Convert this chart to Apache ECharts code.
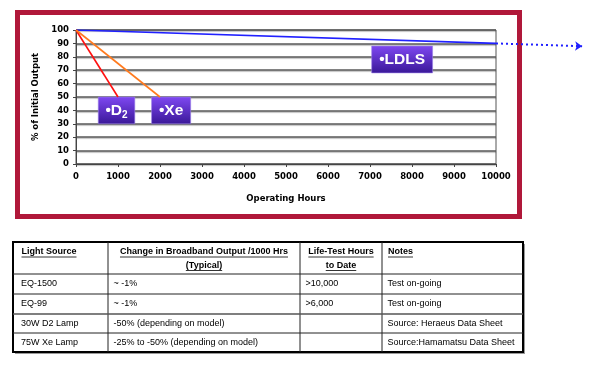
<!DOCTYPE html>
<html><head><meta charset="utf-8">
<script src="https://cdn.jsdelivr.net/npm/echarts@6/dist/echarts.min.js"></script>
<style>html,body{margin:0;padding:0;background:#fff}#c{width:600px;height:366px}</style>
</head><body><div id="c"></div><script>
// ---- data ----
const d2Points = [[0, 100], [1000, 50]];
const xePoints = [[0, 100], [2000, 50]];
const ldlsPoints = [[0, 100], [10000, 90]];
const ldlsTrend = [[10000, 90], [12050, 87.9]];
const d2Box = [[530, 50], [1400, 30]];
const xeBox = [[1800, 50], [2730, 30]];
const ldlsBox = [[7040, 88], [8490, 68]];
const xAxisTitle = 'Operating Hours';
const yAxisTitle = '% of Initial Output';
const tableHeaders = [
  ['Light Source'],
  ['Change in Broadband Output /1000 Hrs', '(Typical)'],
  ['Life-Test Hours', 'to Date'],
  ['Notes']
];
const tableRows = [
  ['EQ-1500', '~ -1%', '>10,000', 'Test on-going'],
  ['EQ-99', '~ -1%', '>6,000', 'Test on-going'],
  ['30W D2 Lamp', '-50% (depending on model)', '', 'Source: Heraeus Data Sheet'],
  ['75W Xe Lamp', '-25% to -50% (depending on model)', '', 'Source:Hamamatsu Data Sheet']
];

// ---- layout ----
const colEdges = [13, 108, 300, 382, 523];
const rowEdges = [242, 274, 294, 314, 333, 352];
const headAlign = ['left', 'center', 'center', 'left'];

const chart = echarts.init(document.getElementById('c'), null, {renderer: 'canvas'});
const boxGrad = () => new echarts.graphic.LinearGradient(0, 0, 0, 1, [
  {offset: 0, color: '#7f48f2'}, {offset: 1, color: '#3a1898'}]);
const boxLabel = {
  show: true, position: 'inside', color: '#fff', fontFamily: 'Liberation Sans, Arial',
  fontWeight: 'bold', fontSize: 15,
  rich: {
    m: {color: '#fff', fontFamily: 'Liberation Sans, Arial', fontWeight: 'bold', fontSize: 15.5},
    sub: {color: '#fff', fontFamily: 'Liberation Sans, Arial', fontWeight: 'bold', fontSize: 10, padding: [9, 0, 0, 0]}
  }
};
function area(box, text) {
  return {
    silent: true,
    itemStyle: {color: boxGrad(), opacity: 1, borderColor: '#9a80e8', borderWidth: 0.6},
    label: Object.assign({}, boxLabel, {formatter: text}),
    data: [[{coord: box[0]}, {coord: box[1]}]]
  };
}

const graphics = [];
// red frame
graphics.push({type: 'rect', shape: {x: 17.5, y: 12.5, width: 502, height: 204},
  style: {fill: 'none', stroke: '#b0183a', lineWidth: 5}, z: 1});

// table
const cv = document.createElement('canvas').getContext('2d');
const x0 = colEdges[0], x1 = colEdges[colEdges.length - 1];
const y0 = rowEdges[0], y1 = rowEdges[rowEdges.length - 1];
graphics.push({type: 'rect', shape: {x: x0 + 2, y: y0 + 2, width: x1 - x0, height: y1 - y0},
  style: {fill: '#999'}, z: 1});
graphics.push({type: 'rect', shape: {x: x0, y: y0, width: x1 - x0, height: y1 - y0},
  style: {fill: '#fff', stroke: '#000', lineWidth: 2}, z: 2});
for (let i = 1; i < colEdges.length - 1; i++) {
  graphics.push({type: 'line', shape: {x1: colEdges[i], y1: y0, x2: colEdges[i], y2: y1},
    style: {stroke: '#222', lineWidth: 1}, z: 3});
}
for (let j = 1; j < rowEdges.length - 1; j++) {
  graphics.push({type: 'line', shape: {x1: x0, y1: rowEdges[j], x2: x1, y2: rowEdges[j]},
    style: {stroke: j === 3 ? '#555' : '#222', lineWidth: j === 3 ? 1.6 : 1}, z: 3});
}
const headFont = 'bold 9px "Liberation Sans"';
const bodyFont = '9px "Liberation Sans"';
tableHeaders.forEach((lines, c) => {
  lines.forEach((t, k) => {
    const y = 252 + k * 13.5;
    const al = headAlign[c];
    const x = al === 'left' ? colEdges[c] + (c === 0 ? 8.5 : 6) : (colEdges[c] + colEdges[c + 1]) / 2;
    graphics.push({type: 'text', z: 4, style: {text: t, x: x, y: y, font: headFont, fill: '#000', align: al, verticalAlign: 'middle'}});
    cv.font = headFont;
    const w = cv.measureText(t).width;
    const lx = al === 'left' ? x : x - w / 2;
    graphics.push({type: 'line', z: 4, shape: {x1: lx, y1: y + 5, x2: lx + w, y2: y + 5}, style: {stroke: '#000', lineWidth: 0.8}});
  });
});
tableRows.forEach((row, r) => {
  const y = (rowEdges[r + 1] + rowEdges[r + 2]) / 2;
  row.forEach((t, c) => {
    if (!t) return;
    const x = colEdges[c] + (c === 0 ? 8 : 5.5);
    graphics.push({type: 'text', z: 4, style: {text: t, x: x, y: y, font: bodyFont, fill: '#000', align: 'left', verticalAlign: 'middle'}});
  });
});

const axisFont = {fontFamily: 'DejaVu Sans', fontWeight: 'bold', fontSize: 8.5, color: '#000'};
chart.setOption({
  animation: false,
  backgroundColor: '#fff',
  grid: {left: 76, right: 104, top: 30, bottom: 202, show: true, borderColor: '#555', borderWidth: 1, backgroundColor: 'transparent'},
  xAxis: {
    type: 'value', min: 0, max: 10000, interval: 1000,
    name: xAxisTitle, nameLocation: 'middle', nameGap: 30,
    nameTextStyle: Object.assign({}, axisFont, {fontSize: 8.5}),
    axisLine: {show: true, lineStyle: {color: '#444', width: 1}},
    axisTick: {show: true, length: 3, lineStyle: {color: '#444'}},
    axisLabel: Object.assign({margin: 8, formatter: v => String(v)}, axisFont),
    splitLine: {show: false}
  },
  yAxis: {
    type: 'value', min: 0, max: 100, interval: 10,
    name: yAxisTitle, nameLocation: 'middle', nameGap: 30, nameRotate: 90,
    nameTextStyle: Object.assign({}, axisFont, {fontSize: 8.5}),
    axisLine: {show: true, lineStyle: {color: '#444', width: 1}},
    axisTick: {show: true, length: 3, lineStyle: {color: '#444'}},
    axisLabel: Object.assign({margin: 7}, axisFont),
    splitLine: {show: true, lineStyle: {color: '#5a5a5a', width: 1.5, shadowColor: 'rgba(0,0,0,0.3)', shadowOffsetY: 1, shadowBlur: 1}}
  },
  graphic: graphics,
  series: [
    {type: 'line', data: ldlsPoints, symbol: 'none', lineStyle: {color: '#2020ff', width: 1.6}, z: 3,
     markArea: area(ldlsBox, '{m|•LDLS}')},
    {type: 'lines', coordinateSystem: 'cartesian2d', clip: false, z: 3,
     symbol: ['none', 'arrow'], symbolSize: 7,
     lineStyle: {color: '#2020ff', width: 2, type: [2, 3], opacity: 1},
     data: [{coords: ldlsTrend}]},
    {type: 'line', data: d2Points, symbol: 'none', lineStyle: {color: '#ff1010', width: 1.6}, z: 3,
     markArea: area(d2Box, '{m|•D}{sub|2}')},
    {type: 'line', data: xePoints, symbol: 'none', lineStyle: {color: '#ff7a1e', width: 1.6}, z: 3,
     markArea: area(xeBox, '{m|•Xe}')}
  ]
});
</script></body></html>
